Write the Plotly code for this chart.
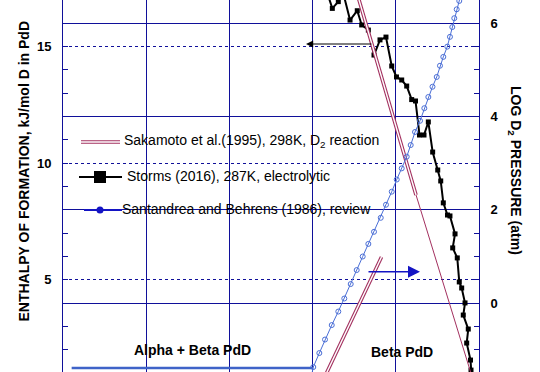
import plotly.graph_objects as go

# ---------------- data ----------------
# Storms (2016), 287K, electrolytic  -> enthalpy (left axis)
storms_x = [0.8173, 0.8237, 0.8309, 0.8365, 0.8450, 0.8537, 0.8590, 0.8670, 0.8738, 0.8810,
            0.8882, 0.8951, 0.9008, 0.9071, 0.9131, 0.9191, 0.9237, 0.9285, 0.9339, 0.9391,
            0.9443, 0.9504, 0.9540, 0.9571, 0.9621, 0.9651, 0.9712, 0.9684, 0.9739, 0.9763,
            0.9792, 0.9832, 0.9811, 0.9871, 0.9852, 0.9898, 0.9904, 0.9916]
storms_h = [17.34, 16.64, 16.93, 17.34, 16.14, 16.54, 15.93, 15.71, 14.64, 15.29,
            15.41, 14.17, 13.70, 13.57, 13.31, 12.73, 12.67, 11.21, 11.21, 11.77,
            10.48, 9.71, 9.24, 8.30, 7.78, 7.74, 6.97, 6.37, 5.94, 4.91,
            4.65, 4.01, 3.49, 2.89, 2.29, 1.56, 1.13, 0.62]

# Sakamoto et al. (1995), 298K, D2 reaction
sak_hi_x = [0.8530, 0.9243]      # enthalpy, double line part
sak_hi_h = [17.34, 8.64]
sak_tail_x = [0.9243, 0.9910]    # enthalpy, single line part
sak_tail_h = [8.64, 0.92]
sak_lo_x = [0.8151, 0.8828]      # log pressure (right axis)
sak_lo_p = [-1.56, 0.99]

# Santandrea and Behrens (1986), review -> log pressure (right axis)
san_x = [0.7975, 0.8008, 0.8081, 0.8149, 0.8230, 0.8309, 0.8381, 0.8458, 0.8530, 0.8602,
         0.8670, 0.8738, 0.8819, 0.8882, 0.8951, 0.9011, 0.9071, 0.9131, 0.9179, 0.9231,
         0.9291, 0.9343, 0.9391, 0.9441, 0.9492, 0.9531, 0.9571, 0.9619, 0.9651, 0.9679,
         0.9703, 0.9732, 0.9763, 0.9790]
san_p = [-1.66, -1.37, -1.07, -0.78, -0.47, -0.18, 0.10, 0.41, 0.71, 1.00,
         1.27, 1.53, 1.83, 2.11, 2.39, 2.65, 2.89, 3.14, 3.39, 3.67,
         3.91, 4.18, 4.42, 4.64, 4.85, 5.09, 5.28, 5.50, 5.71, 5.92,
         6.11, 6.30, 6.48, 6.67]
san_marker_x = san_x[1:-1]
san_marker_p = san_p[1:-1]
plateau_x = [0.5104, 0.8008]
plateau_p = [-1.39, -1.39]

X_RANGE = [0.5, 1.0]
H_RANGE = [1.048, 17.0]
P_RANGE = [-1.476, 6.5]

NAVY = "#10109A"
RED = "#A3305F"
BLUE_CURVE = "#4A6ED6"
BLUE_LEG = "#1414C4"
FONT = "Arial, Liberation Sans, sans-serif"

fig = go.Figure()

# Santandrea
fig.add_trace(go.Scatter(x=plateau_x, y=plateau_p, yaxis="y2", mode="lines",
                         line=dict(color="#3F63C8", width=2.5), showlegend=False))
fig.add_trace(go.Scatter(x=san_x, y=san_p, yaxis="y2", mode="lines",
                         line=dict(color=BLUE_CURVE, width=1), showlegend=False))
fig.add_trace(go.Scatter(x=san_marker_x, y=san_marker_p, yaxis="y2", mode="markers",
                         marker=dict(symbol="circle-open", size=5, color=BLUE_CURVE,
                                     line=dict(width=1, color=BLUE_CURVE)),
                         showlegend=False))

# Storms
fig.add_trace(go.Scatter(x=storms_x, y=storms_h, mode="lines+markers",
                         line=dict(color="black", width=2),
                         marker=dict(symbol="square", size=5, color="black"),
                         showlegend=False))

# Sakamoto (double lines: red wide + white core)
for xs, ys, ax in [(sak_hi_x, sak_hi_h, "y"), (sak_lo_x, sak_lo_p, "y2")]:
    fig.add_trace(go.Scatter(x=xs, y=ys, yaxis=ax, mode="lines",
                             line=dict(color=RED, width=3.6), showlegend=False))
    fig.add_trace(go.Scatter(x=xs, y=ys, yaxis=ax, mode="lines",
                             line=dict(color="white", width=1.4), showlegend=False))
fig.add_trace(go.Scatter(x=sak_tail_x, y=sak_tail_h, mode="lines",
                         line=dict(color=RED, width=1), showlegend=False))

# ---------------- manual legend ----------------
def px2paper(px, py):
    return (px - 63) / 416.0, 1 - py / 372.0

shapes = []
x0, y0 = px2paper(81, 142)
x1, _ = px2paper(120, 142)
shapes.append(dict(type="line", xref="paper", yref="paper", x0=x0, x1=x1, y0=y0, y1=y0,
                   line=dict(color=RED, width=3.6)))
shapes.append(dict(type="line", xref="paper", yref="paper", x0=x0, x1=x1, y0=y0, y1=y0,
                   line=dict(color="white", width=1.4)))
x0, y0 = px2paper(79, 177)
x1, _ = px2paper(122, 177)
shapes.append(dict(type="line", xref="paper", yref="paper", x0=x0, x1=x1, y0=y0, y1=y0,
                   line=dict(color="black", width=2)))
sx0, sy0 = px2paper(94, 183)
sx1, sy1 = px2paper(106, 171)
shapes.append(dict(type="rect", xref="paper", yref="paper", x0=sx0, x1=sx1, y0=sy0, y1=sy1,
                   fillcolor="black", line=dict(width=0)))
x0, y0 = px2paper(84, 210)
x1, _ = px2paper(122, 210)
shapes.append(dict(type="line", xref="paper", yref="paper", x0=x0, x1=x1, y0=y0, y1=y0,
                   line=dict(color=BLUE_LEG, width=2)))
cx0, cy0 = px2paper(96.5, 213.5)
cx1, cy1 = px2paper(103.5, 206.5)
shapes.append(dict(type="circle", xref="paper", yref="paper", x0=cx0, x1=cx1, y0=cy0, y1=cy1,
                   fillcolor=BLUE_LEG, line=dict(width=0)))

annotations = []
def txt(text, px, py, size=14, bold=False, anchor="left", angle=0):
    x, y = px2paper(px, py)
    annotations.append(dict(text=text, x=x, y=y, xref="paper", yref="paper",
                            showarrow=False, xanchor=anchor, yanchor="middle",
                            textangle=angle,
                            font=dict(family=FONT, size=size, color="black",
                                      weight="bold" if bold else "normal")))

txt("Sakamoto et al.(1995), 298K, D<sub>2</sub> reaction", 122, 141)
txt("Storms (2016), 287K, electrolytic", 125, 176)
txt("Santandrea and Behrens (1986), review", 120, 209)
txt("Alpha + Beta PdD", 192.5, 349.5, bold=True, anchor="center")
txt("Beta PdD", 401.5, 351.5, bold=True, anchor="center")
txt("ENTHALPY OF FORMATION, kJ/mol D in PdD", 24, 171.5, bold=True, anchor="center", angle=-90)
txt("LOG D<sub>2</sub> PRESSURE (atm)", 515, 170, bold=True, anchor="center", angle=90)

# arrows
ax_, ay_ = px2paper(306, 44)
annotations.append(dict(x=ax_, y=ay_, xref="paper", yref="paper", ax=67, ay=0,
                        showarrow=True, arrowhead=2, arrowsize=1.2, arrowwidth=1.2,
                        arrowcolor="black", text=""))
ax_, ay_ = px2paper(420, 271.7)
annotations.append(dict(x=ax_, y=ay_, xref="paper", yref="paper", ax=-53, ay=0,
                        showarrow=True, arrowhead=2, arrowsize=1.6, arrowwidth=1.5,
                        arrowcolor=BLUE_LEG, text=""))

tickfont = dict(family=FONT, size=13, color="black", weight="bold")

fig.update_layout(
    width=540, height=372,
    margin=dict(l=63, r=61, t=0, b=0),
    paper_bgcolor="white", plot_bgcolor="white",
    showlegend=False,
    shapes=shapes, annotations=annotations,
    xaxis=dict(range=X_RANGE, tick0=0.5, dtick=0.1, showgrid=True, gridcolor=NAVY,
               gridwidth=1, showticklabels=False, ticks="", zeroline=False, showline=False),
    yaxis=dict(range=H_RANGE, tick0=0, dtick=5, showgrid=True, gridcolor=NAVY,
               griddash="dot", gridwidth=1, zeroline=False, showline=True,
               linecolor=NAVY, linewidth=1, ticks="inside", ticklen=5, tickcolor=NAVY,
               minor=dict(dtick=1, tick0=0, ticks="inside", ticklen=5, tickcolor=NAVY,
                          showgrid=False),
               tickfont=tickfont, ticklabelstandoff=8),
    yaxis2=dict(range=P_RANGE, overlaying="y", side="right", tick0=0, dtick=2,
                showgrid=True, gridcolor=NAVY, gridwidth=1, zeroline=False,
                showline=True, linecolor=NAVY, linewidth=1, ticks="inside", ticklen=5,
                tickcolor=NAVY,
                minor=dict(dtick=0.5, tick0=0, ticks="inside", ticklen=5, tickcolor=NAVY,
                           showgrid=False),
                tickfont=tickfont, ticklabelstandoff=8),
)

fig.write_html("out.html", config={"displayModeBar": False},
               post_script="document.body.style.margin='0px';document.body.style.overflow='hidden';")
